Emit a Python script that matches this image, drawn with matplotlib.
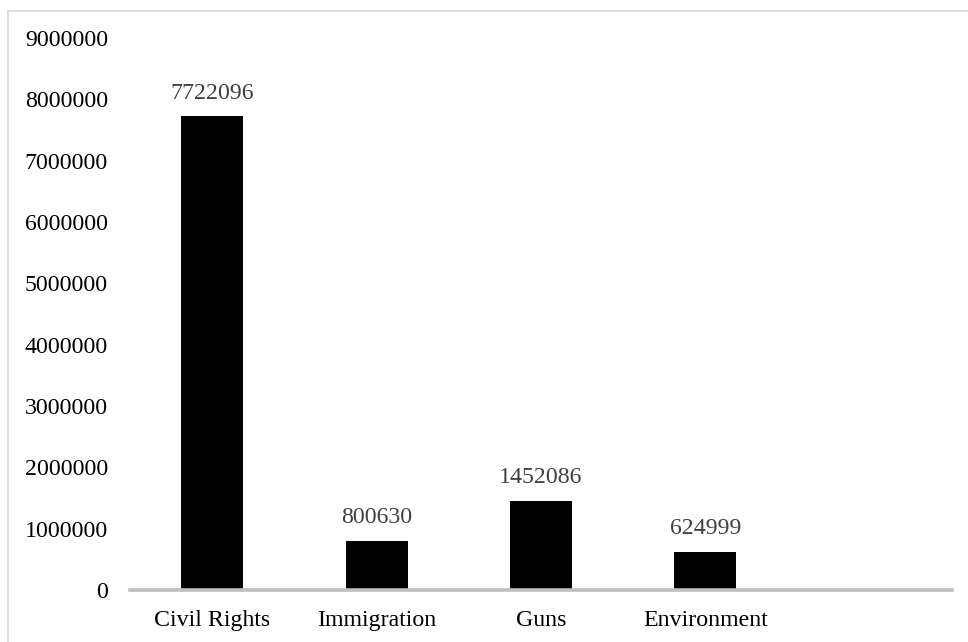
import matplotlib.pyplot as plt
from matplotlib.lines import Line2D

# datos del grafico
categorias = ["Civil Rights", "Immigration", "Guns", "Environment", ""]
valores = [7722096, 800630, 1452086, 624999, None]
yticks = [0, 1000000, 2000000, 3000000, 4000000, 5000000, 6000000, 7000000, 8000000, 9000000]

plt.rcParams["font.family"] = ["Liberation Serif", "DejaVu Serif"]

fig = plt.figure(figsize=(9.68, 6.42), dpi=100)
ax = fig.add_axes([130 / 968, 1 - 590 / 642, 822 / 968, 552 / 642])

xs = [i for i, v in enumerate(valores) if v is not None]
hs = [v for v in valores if v is not None]
barras = ax.bar(xs, hs, width=0.377, color="black", zorder=2)

for x, v in zip(xs, hs):
    ax.annotate(str(v), (x, v), xytext=(0, 9), textcoords="offset points",
                ha="center", va="bottom", fontsize=17.2, color="#404040")

ax.set_xlim(-0.5, 4.5)
ax.set_ylim(0, 9000000)
ax.set_xticks(range(len(categorias)))
ax.set_xticklabels(categorias)
ax.set_yticks(yticks)
ax.set_yticklabels([str(t) for t in yticks])
ax.tick_params(axis="both", length=0, labelsize=17.2, colors="black")
ax.tick_params(axis="y", pad=15.8)
ax.tick_params(axis="x", pad=14.5)

for s in ["top", "right", "left"]:
    ax.spines[s].set_visible(False)
ax.spines["bottom"].set_color("#bfbfbf")
ax.spines["bottom"].set_linewidth(2.6)
ax.spines["bottom"].set_zorder(3)

# borde del area del grafico (solo arriba e izquierda visibles)
fig.add_artist(Line2D([8 / 968, 1.0], [1 - 11 / 642, 1 - 11 / 642], color="#d9d9d9", lw=1.2))
fig.add_artist(Line2D([8 / 968, 8 / 968], [0.0, 1 - 11 / 642], color="#d9d9d9", lw=1.2))

fig.savefig("out.png", dpi=100)
